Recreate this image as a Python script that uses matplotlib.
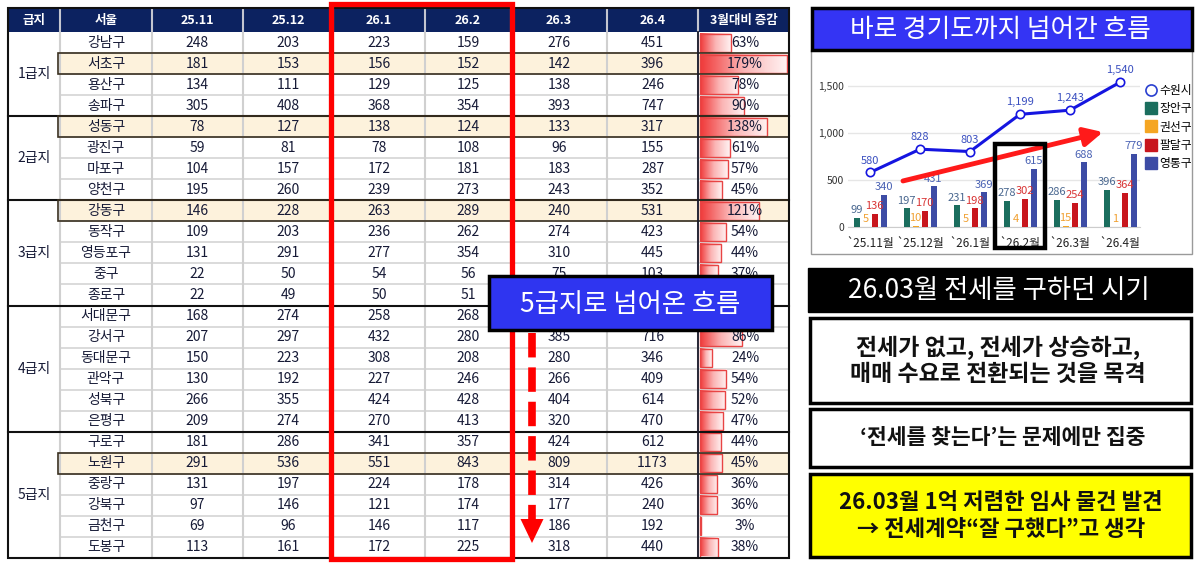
import matplotlib
matplotlib.use('Agg')
import matplotlib.pyplot as plt
from matplotlib.patches import Rectangle, Polygon
from matplotlib.colors import LinearSegmentedColormap
from matplotlib.lines import Line2D
import numpy as np

plt.rcParams['font.family'] = ['Noto Sans CJK KR', 'DejaVu Sans']

# ---- 표 데이터 (서울 구별) ----
grades = ['1급지', '2급지', '3급지', '4급지', '5급지']
group_sizes = [4, 4, 5, 6, 6]
districts = ['강남구', '서초구', '용산구', '송파구',
             '성동구', '광진구', '마포구', '양천구',
             '강동구', '동작구', '영등포구', '중구', '종로구',
             '서대문구', '강서구', '동대문구', '관악구', '성북구', '은평구',
             '구로구', '노원구', '중랑구', '강북구', '금천구', '도봉구']
highlight = ['서초구', '성동구', '강동구', '노원구']
header = ['급지', '서울', '25.11', '25.12', '26.1', '26.2', '26.3', '26.4', '3월대비 증감']

v2511 = [248, 181, 134, 305, 78, 59, 104, 195, 146, 109, 131, 22, 22, 168, 207, 150, 130, 266, 209, 181, 291, 131, 97, 69, 113]
v2512 = [203, 153, 111, 408, 127, 81, 157, 260, 228, 203, 291, 50, 49, 274, 297, 223, 192, 355, 274, 286, 536, 197, 146, 96, 161]
v2601 = [223, 156, 129, 368, 138, 78, 172, 239, 263, 236, 277, 54, 50, 258, 432, 308, 227, 424, 270, 341, 551, 224, 121, 146, 172]
v2602 = [159, 152, 125, 354, 124, 108, 181, 273, 289, 262, 354, 56, 51, 268, 280, 208, 246, 428, 413, 357, 843, 178, 174, 117, 225]
v2603 = [276, 142, 138, 393, 133, 96, 183, 243, 240, 274, 310, 75, 62, 330, 385, 280, 266, 404, 320, 424, 809, 314, 177, 186, 318]
v2604 = [451, 396, 246, 747, 317, 155, 287, 352, 531, 423, 445, 103, 85, 520, 716, 346, 409, 614, 470, 612, 1173, 426, 240, 192, 440]
pct = [63, 179, 78, 90, 138, 61, 57, 45, 121, 54, 44, 37, 37, 58, 86, 24, 54, 52, 47, 44, 45, 36, 36, 3, 38]

# ---- 차트 데이터 (수원시) ----
months = ['`25.11월', '`25.12월', '`26.1월', '`26.2월', '`26.3월', '`26.4월']
suwon = [580, 828, 803, 1199, 1243, 1540]
jangan = [99, 197, 231, 278, 286, 396]
gwonseon = [5, 10, 5, 4, 15, 1]
paldal = [136, 170, 198, 302, 254, 364]
yeongtong = [340, 431, 369, 615, 688, 779]

W, H = 1196, 564
fig = plt.figure(figsize=(W / 100, H / 100), dpi=100)
ax = fig.add_axes([0, 0, 1, 1])

NAVY = '#0c2260'
TXT = '#161a36'

col_x = [8, 60, 152, 243, 333, 425, 511, 607, 698, 789]
top, hdr_bot, bot = 8, 32, 558
rh = (bot - hdr_bot) / len(districts)
cols = [v2511, v2512, v2601, v2602, v2603, v2604]

# 파란 안내 박스 (이 아래 가려지는 글자는 그리지 않음)
box = (489, 276, 772, 330)


def hidden(xc, yc):
    return box[0] < xc < box[2] and box[1] < yc < box[3]


# 셀 배경
for i, d in enumerate(districts):
    y0 = hdr_bot + i * rh
    fc = '#fdf2dc' if d in highlight else 'white'
    ax.add_patch(Rectangle((col_x[1], y0), col_x[-1] - col_x[1], rh, facecolor=fc, edgecolor='none', zorder=1))
ax.add_patch(Rectangle((col_x[0], hdr_bot), col_x[1] - col_x[0], bot - hdr_bot, facecolor='white', edgecolor='none', zorder=1))

# 회색 격자
for i in range(1, len(districts)):
    y = hdr_bot + i * rh
    ax.plot([col_x[1], col_x[-1]], [y, y], color='#d4d4d4', lw=1.2, zorder=2)
for x in col_x[1:-1]:
    ax.plot([x, x], [hdr_bot, bot], color='#d0d0d0', lw=1.5, zorder=2)

# 헤더
ax.add_patch(Rectangle((col_x[0], top), col_x[-1] - col_x[0], hdr_bot - top, facecolor=NAVY, edgecolor='none', zorder=3))
for x in col_x[1:-1]:
    ax.plot([x, x], [top + 1, hdr_bot - 1], color='#c4c6d0', lw=1.5, zorder=3)
for j, h in enumerate(header):
    ax.text((col_x[j] + col_x[j + 1]) / 2, (top + hdr_bot) / 2 + 0.5, h, color='white', fontsize=9,
            fontweight='bold', ha='center', va='center', zorder=4)

# 구 이름, 숫자
for i, d in enumerate(districts):
    yc = hdr_bot + (i + 0.5) * rh
    ax.text((col_x[1] + col_x[2]) / 2, yc, d, fontsize=10, color=TXT, ha='center', va='center', zorder=4)
    for j, vals in enumerate(cols):
        xc = (col_x[j + 2] + col_x[j + 3]) / 2
        if hidden(xc, yc):
            continue
        ax.text(xc, yc, str(vals[i]), fontsize=10, color=TXT, ha='center', va='center', zorder=4)

# 데이터 막대 (3월대비 증감)
cmap = LinearSegmentedColormap.from_list('db', ['#f03a3a', '#fbb4b4', '#fff2f2'])
grad = np.linspace(0, 1, 64).reshape(1, -1)
bx0 = col_x[8] + 2
bmax = 87
for i, p in enumerate(pct):
    y0 = hdr_bot + i * rh + 1.5
    y1 = hdr_bot + (i + 1) * rh - 1.5
    w = p / max(pct) * bmax
    ax.imshow(grad, cmap=cmap, extent=[bx0, bx0 + w, y1, y0], aspect='auto', zorder=3, interpolation='bilinear')
    ax.add_patch(Rectangle((bx0, y0), w, y1 - y0, fill=False, edgecolor='#e84444', lw=1, zorder=3.5))
    if not hidden(745, (y0 + y1) / 2):
        ax.text(745, (y0 + y1) / 2, f'{p}%', fontsize=10, color=TXT, ha='center', va='center', zorder=4)

# 급지 구분, 테두리
start = 0
for g, n in zip(grades, group_sizes):
    ya = hdr_bot + start * rh
    yb = hdr_bot + (start + n) * rh
    ax.text((col_x[0] + col_x[1]) / 2, (ya + yb) / 2, g, fontsize=10, color=TXT, ha='center', va='center', zorder=4)
    if start > 0:
        ax.plot([col_x[0], col_x[-1]], [ya, ya], color='#111111', lw=1.5, zorder=6)
    start += n
for i, d in enumerate(districts):
    if d in highlight:
        ax.add_patch(Rectangle((col_x[1] - 2, hdr_bot + i * rh), col_x[-1] - col_x[1] + 2, rh, fill=False,
                               edgecolor='#3a3020', lw=1.2, zorder=6))
ax.plot([col_x[8], col_x[8]], [hdr_bot, bot], color='#1a1a2a', lw=1.3, zorder=6)
ax.add_patch(Rectangle((col_x[0], top), col_x[-1] - col_x[0], bot - top, fill=False, edgecolor='#111111', lw=1.5, zorder=7))

# 빨간 박스, 점선 화살표
ax.add_patch(Rectangle((331, 4), 181, 555, fill=False, edgecolor='#ff0000', lw=3.8, zorder=8))
ax.plot([532, 532], [333, 521], color='#ff0000', lw=5.5, dashes=(3.2, 1.3), solid_capstyle='butt', zorder=8)
ax.add_patch(Polygon([(520.5, 519), (543.5, 519), (532, 543)], closed=True, facecolor='#ff0000', edgecolor='none', zorder=8))

ax.add_patch(Rectangle((box[0], box[1]), box[2] - box[0], box[3] - box[1], facecolor='#2f35f0',
                       edgecolor='black', lw=2.5, zorder=9))
ax.text(630, 304, '5급지로 넘어온 흐름', fontsize=19, color='white', ha='center', va='center', zorder=10)

# ---- 오른쪽 패널 ----
ax.add_patch(Rectangle((811, 50), 381, 204, facecolor='white', edgecolor='#9a9a9a', lw=1, zorder=0.5))
ax.add_patch(Rectangle((812, 8), 380, 42, facecolor='#3434f4', edgecolor='black', lw=2.5, zorder=2))
ax.text(1000, 30, '바로 경기도까지 넘어간 흐름', fontsize=18.5, color='white', ha='center', va='center', zorder=3)

ax.add_patch(Rectangle((808, 268), 384, 44, facecolor='black', edgecolor='black', lw=1, zorder=2))
ax.text(999, 291, '26.03월 전세를 구하던 시기', fontsize=19, color='white', ha='center', va='center', zorder=3)

ax.add_patch(Rectangle((810, 318), 381, 85, facecolor='white', edgecolor='black', lw=2.5, zorder=2))
ax.text(998, 361, '전세가 없고, 전세가 상승하고,\n매매 수요로 전환되는 것을 목격', fontsize=16.5,
        fontweight='bold', color='#111111', ha='center', va='center', linespacing=1.2, zorder=3)

ax.add_patch(Rectangle((810, 409), 381, 58, facecolor='white', edgecolor='black', lw=2.5, zorder=2))
ax.text(1003, 438, '‘전세를 찾는다’는 문제에만 집중', fontsize=15.5, fontweight='bold',
        color='#111111', ha='center', va='center', zorder=3)

ax.add_patch(Rectangle((810, 474), 381, 83, facecolor='#ffff00', edgecolor='black', lw=2.5, zorder=2))
ax.text(1001, 516, '26.03월 1억 저렴한 임사 물건 발견\n→ 전세계약“잘 구했다”고 생각', fontsize=16,
        fontweight='bold', color='#111111', ha='center', va='center', linespacing=1.2, zorder=3)

ax.set_xlim(0, W)
ax.set_ylim(H, 0)
ax.axis('off')

# ---- 수원시 차트 ----
ax2 = fig.add_axes([848 / W, 1 - 227 / H, (1140 - 848) / W, (227 - 60) / H])
ax2.set_facecolor('none')
x = np.arange(len(months))
series = [(jangan, '장안구', '#1b6e5e', '#4a6890'),
          (gwonseon, '권선구', '#f5a623', '#f0a030'),
          (paldal, '팔달구', '#c8161d', '#d83434'),
          (yeongtong, '영통구', '#3d4ca5', '#4a62b4')]
for k, (vals, name, col, lc) in enumerate(series):
    xs = x + (k - 1.5) * 0.18
    ax2.bar(xs, vals, width=0.12, color=col, zorder=3)
    for xi, v in zip(xs, vals):
        ax2.annotate(str(v), (xi, v), xytext=(0, 2), textcoords='offset points', ha='center', va='bottom',
                     fontsize=8, color=lc, zorder=4)

ax2.plot(x, suwon, color='#1515e0', lw=2.2, marker='o', mfc='white', mec='#1515e0', ms=6, mew=1.2, zorder=5)
for xi, v in zip(x, suwon):
    ax2.annotate(f'{v:,}', (xi, v), xytext=(0, 5), textcoords='offset points', ha='center', va='bottom',
                 fontsize=8, color='#3a4fc0', zorder=5)

ax2.annotate('', xy=(4.66, 1010), xytext=(0.66, 490),
             arrowprops=dict(arrowstyle='-|>', color='#ff1a1a', lw=3.5, mutation_scale=28, shrinkA=0, shrinkB=0),
             zorder=6)
ax2.add_patch(Rectangle((2.5, -225), 1.0, 1108, fill=False, edgecolor='black', lw=3.2, clip_on=False, zorder=7))

ax2.set_xlim(-0.44, 5.4)
ax2.set_ylim(0, 1777)
ax2.set_xticks(x)
ax2.set_xticklabels(months)
ax2.set_yticks([0, 500, 1000, 1500])
ax2.set_yticklabels(['0', '500', '1,000', '1,500'])
ax2.tick_params(axis='x', length=0, pad=7, labelsize=8.5, colors='#222222')
ax2.tick_params(axis='y', length=0, pad=3, labelsize=7.5, colors='#333333')
ax2.grid(axis='y', color='#e6e6e6', lw=1)
ax2.set_axisbelow(True)
for s in ['top', 'right', 'left']:
    ax2.spines[s].set_visible(False)
ax2.spines['bottom'].set_color('#cccccc')

handles = [Line2D([], [], marker='o', color='none', mfc='white', mec='#2a40d0', ms=8, mew=1.2)]
labels = ['수원시']
for vals, name, col, lc in series:
    handles.append(Line2D([], [], marker='s', color='none', mfc=col, mec=col, ms=8))
    labels.append(name)
fig.legend(handles, labels, loc='upper left', bbox_to_anchor=(1146 / W, 1 - 84 / H), frameon=False,
           fontsize=8.5, handlelength=0.8, handletextpad=0.3, labelspacing=0.45, borderaxespad=0, borderpad=0)

fig.savefig('out.png', dpi=100)
